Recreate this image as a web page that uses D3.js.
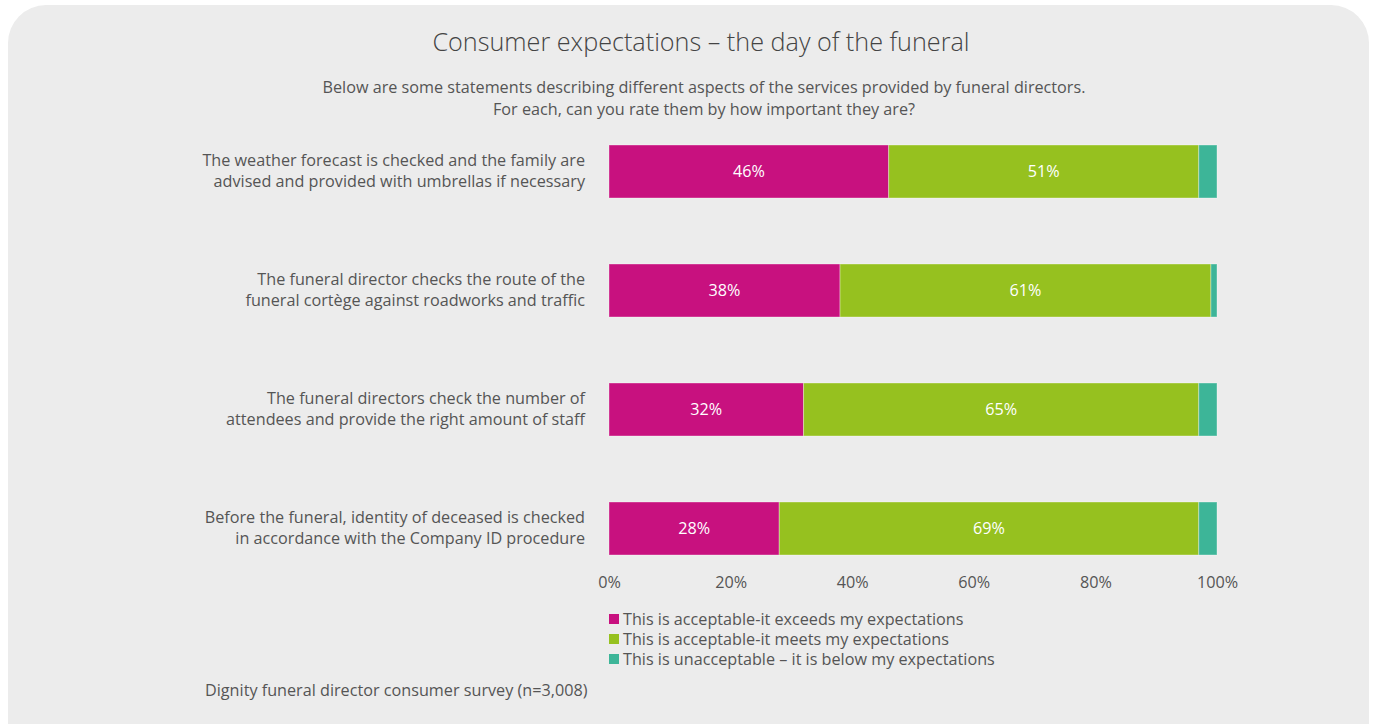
<!DOCTYPE html>
<html>
<head>
<meta charset="utf-8">
<script src="https://cdn.jsdelivr.net/npm/d3@7"></script>
<style>
  html, body { margin: 0; padding: 0; background: #ffffff; }
  svg { display: block; font-family: "Open Sans", "DejaVu Sans", sans-serif; }
</style>
</head>
<body>
<svg id="chart" width="1375" height="724"></svg>
<script>
// Statements (two display lines each), top to bottom
const categories = [
  ["The weather forecast is checked and the family are", "advised and provided with umbrellas if necessary"],
  ["The funeral director checks the route of the", "funeral cortège against roadworks and traffic"],
  ["The funeral directors check the number of", "attendees and provide the right amount of staff"],
  ["Before the funeral, identity of deceased is checked", "in accordance with the Company ID procedure"]
];
const seriesNames = [
  "This is acceptable-it exceeds my expectations",
  "This is acceptable-it meets my expectations",
  "This is unacceptable – it is below my expectations"
];
const exceeds = [46, 38, 32, 28];
const meets = [51, 61, 65, 69];
const below = [3, 1, 3, 3];
const tickValues = [0, 20, 40, 60, 80, 100];
const colors = ["#c8117f", "#96c11f", "#3db598"];

const FS = 16.2;
const svg = d3.select("#chart");

// Panel background
svg.append("rect")
  .attr("x", 8).attr("y", 5).attr("width", 1361).attr("height", 760)
  .attr("rx", 38).attr("ry", 38)
  .attr("fill", "#ececec");

// Titles
svg.append("text")
  .attr("x", 701).attr("y", 51)
  .attr("text-anchor", "middle")
  .attr("font-size", 25.2).attr("font-weight", 300)
  .attr("fill", "#444")
  .text("Consumer expectations – the day of the funeral");
svg.append("text")
  .attr("x", 704).attr("y", 93)
  .attr("text-anchor", "middle")
  .attr("font-size", FS).attr("fill", "#555")
  .text("Below are some statements describing different aspects of the services provided by funeral directors.");
svg.append("text")
  .attr("x", 704).attr("y", 115)
  .attr("text-anchor", "middle")
  .attr("font-size", FS).attr("fill", "#555")
  .text("For each, can you rate them by how important they are?");

// Scales
const x = d3.scaleLinear().domain([0, 100]).range([609, 1217]);
const y = d3.scaleBand().domain(d3.range(categories.length))
  .range([112, 588]).paddingInner(0.5546).paddingOuter(0.2773);

const rows = categories.map((c, i) => ({ i, values: [exceeds[i], meets[i], below[i]] }));
const stack = d3.stack().keys([0, 1, 2]).value((d, k) => d.values[k]);
const layers = stack(rows);

const g = svg.append("g");
layers.forEach((layer, k) => {
  const lg = g.append("g");
  lg.selectAll("rect").data(layer).join("rect")
    .attr("x", d => x(d[0]))
    .attr("y", (d, i) => y(i))
    .attr("width", d => x(d[1]) - x(d[0]))
    .attr("height", y.bandwidth())
    .attr("fill", colors[k])
    .attr("stroke", "rgba(255,255,255,0.35)")
    .attr("stroke-width", 1);
  if (k < 2) {
    lg.selectAll("text").data(layer).join("text")
      .attr("x", d => (x(d[0]) + x(d[1])) / 2)
      .attr("y", (d, i) => y(i) + y.bandwidth() / 2)
      .attr("dy", "0.35em")
      .attr("text-anchor", "middle")
      .attr("font-size", FS).attr("fill", "#ffffff")
      .text(d => (d[1] - d[0]) + "%");
  }
});

// Category labels
const labels = svg.append("g");
categories.forEach((lines, i) => {
  const cy = y(i) + y.bandwidth() / 2;
  const t = labels.append("text")
    .attr("text-anchor", "end")
    .attr("font-size", FS).attr("fill", "#555");
  lines.forEach((ln, j) => {
    t.append("tspan")
      .attr("x", 585)
      .attr("y", cy + (j === 0 ? -11 : 10))
      .attr("dy", "0.35em")
      .text(ln);
  });
});

// X axis (labels only)
const axis = svg.append("g")
  .attr("transform", "translate(0,576)")
  .call(d3.axisBottom(x).tickValues(tickValues).tickFormat(d => d + "%").tickSize(0).tickPadding(0));
axis.select(".domain").remove();
axis.selectAll("text")
  .attr("font-size", FS).attr("fill", "#555")
  .attr("font-family", "\"Open Sans\", sans-serif");

// Legend
const legend = svg.append("g");
seriesNames.forEach((name, k) => {
  const ly = 619 + k * 20;
  legend.append("rect")
    .attr("x", 609).attr("y", ly - 5).attr("width", 10).attr("height", 10)
    .attr("fill", colors[k]);
  legend.append("text")
    .attr("x", 623).attr("y", ly).attr("dy", "0.35em")
    .attr("font-size", FS).attr("fill", "#555")
    .text(name);
});

// Source note
svg.append("text")
  .attr("x", 205).attr("y", 690).attr("dy", "0.35em")
  .attr("font-size", FS).attr("fill", "#555")
  .text("Dignity funeral director consumer survey (n=3,008)");
</script>
</body>
</html>
